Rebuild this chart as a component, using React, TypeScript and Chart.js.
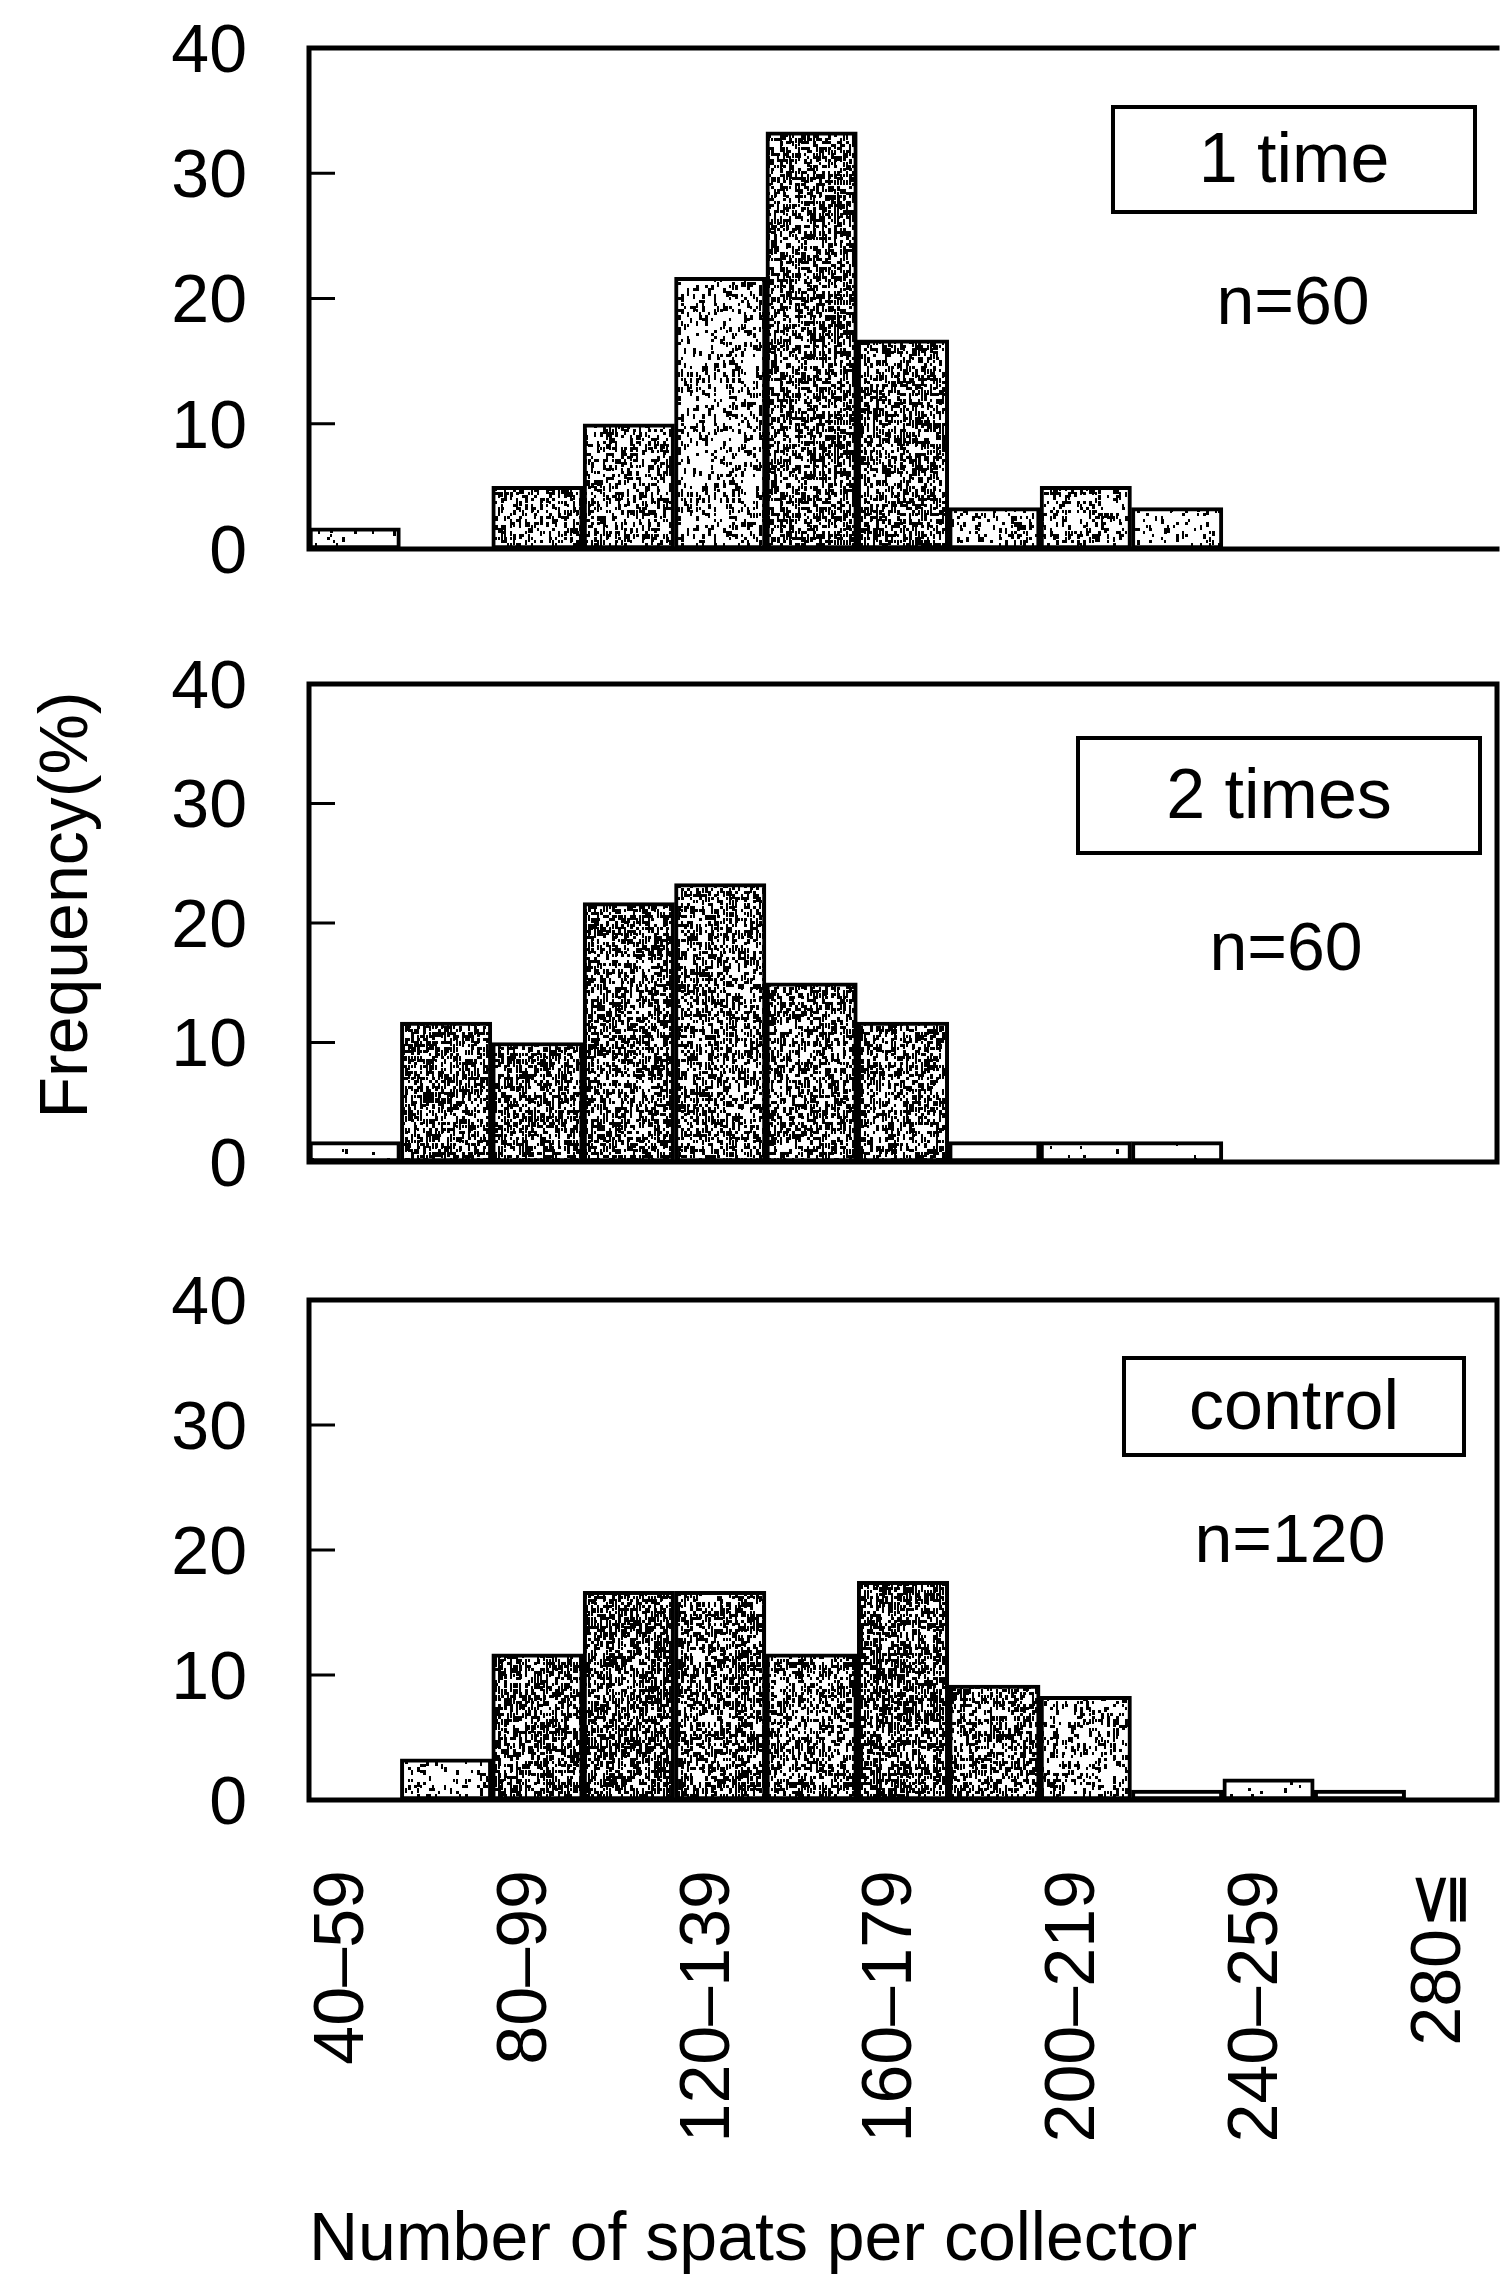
import React, { useEffect, useRef } from 'react';
import { Chart, registerables } from 'chart.js';

Chart.register(...registerables);

// ---------- data ----------
const categories = [
  '40–59', '60–79', '80–99', '100–119', '120–139', '140–159', '160–179',
  '180–199', '200–219', '220–239', '240–259', '260–279', '280≦',
];
const oneTime = [1.7, 0, 5.0, 10.0, 21.7, 33.3, 16.7, 3.3, 5.0, 3.3, 0, 0, 0];
const twoTimes = [1.7, 11.7, 10.0, 21.7, 23.3, 15.0, 11.7, 1.7, 1.7, 1.7, 0, 0, 0];
const control = [0, 3.3, 11.7, 16.7, 16.7, 11.7, 17.5, 9.2, 8.3, 0.8, 1.7, 0.8, 0];
const yTickValues = [0, 10, 20, 30, 40];
const panelNames = ['1 time', '2 times', 'control'];
const sampleSizes = ['n=60', 'n=60', 'n=120'];
const yTitle = 'Frequency(%)';
const xTitle = 'Number of spats per collector';

// ---------- styles (stipple darkness per bar) ----------
const shade1 = [0.06, 0, 0.42, 0.38, 0.28, 0.55, 0.5, 0.22, 0.32, 0.15, 0, 0, 0];
const shade2 = [0.03, 0.55, 0.55, 0.55, 0.5, 0.5, 0.48, 0, 0.02, 0.02, 0, 0, 0];
const shade3 = [0, 0.18, 0.6, 0.62, 0.52, 0.48, 0.62, 0.5, 0.32, 0, 0.06, 0, 0];

const FONT = "'Liberation Sans', Arial, Helvetica, sans-serif";

function hash(x: number, y: number, seed: number) {
  let h = (x * 374761393 + y * 668265263 + seed * 982451653) | 0;
  h = Math.imul(h ^ (h >>> 13), 1274126177);
  h ^= h >>> 16;
  return (h >>> 0) / 4294967296;
}

function stipple(density: number, seed: number) {
  const size = 120;
  const cell = 3;
  const c = document.createElement('canvas');
  c.width = size;
  c.height = size;
  const g = c.getContext('2d')!;
  g.fillStyle = '#ffffff';
  g.fillRect(0, 0, size, size);
  if (density > 0) {
    g.fillStyle = '#000000';
    for (let y = 0; y < size; y += cell) {
      for (let x = 0; x < size; x += cell) {
        const h = hash(x, y, seed);
        if (h < density) {
          const w = hash(y, x, seed + 7) < 0.5 ? 2 : 3;
          g.fillRect(x, y, w, cell + (h < density * 0.4 ? 2 : 0));
        }
      }
    }
  }
  return g.createPattern(c, 'repeat') as CanvasPattern;
}

const panelAxes = ['y1', 'y2', 'y3'];
// annotation box geometry per panel (absolute x, offsets from panel top)
const boxLayout = [
  { left: 1113, right: 1475, top: 59, bottom: 164, nx: 1293, ny: 257 },
  { left: 1078, right: 1480, top: 54, bottom: 169, nx: 1286, ny: 267 },
  { left: 1124, right: 1464, top: 58, bottom: 155, nx: 1290, ny: 243 },
];

const framePlugin = {
  id: 'panelFrames',
  afterDatasetsDraw(chart: any) {
    const { ctx, chartArea } = chart;
    panelAxes.forEach((id, i) => {
      const s = chart.scales[id];
      ctx.save();
      ctx.strokeStyle = '#000';
      ctx.lineCap = 'square';
      ctx.lineWidth = 5;
      ctx.beginPath();
      ctx.moveTo(chartArea.left, s.top);
      ctx.lineTo(chartArea.left, s.bottom);
      ctx.moveTo(chartArea.left, s.top);
      ctx.lineTo(chartArea.right, s.top);
      ctx.moveTo(chartArea.left, s.bottom);
      ctx.lineTo(chartArea.right, s.bottom);
      if (i > 0) {
        ctx.moveTo(chartArea.right, s.top);
        ctx.lineTo(chartArea.right, s.bottom);
      }
      ctx.stroke();
      // inward tick marks
      ctx.lineWidth = 3;
      ctx.lineCap = 'butt';
      ctx.beginPath();
      s.ticks.forEach((t: any) => {
        if (t.value <= s.min || t.value >= s.max) return;
        const y = s.getPixelForValue(t.value);
        ctx.moveTo(chartArea.left, y);
        ctx.lineTo(chartArea.left + 26, y);
      });
      ctx.stroke();
      // label box
      const b = boxLayout[i];
      ctx.lineWidth = 4;
      ctx.fillStyle = '#fff';
      ctx.fillRect(b.left, s.top + b.top, b.right - b.left, b.bottom - b.top);
      ctx.strokeRect(b.left, s.top + b.top, b.right - b.left, b.bottom - b.top);
      ctx.fillStyle = '#000';
      ctx.textAlign = 'center';
      ctx.textBaseline = 'middle';
      ctx.font = `70px ${FONT}`;
      ctx.fillText(panelNames[i], (b.left + b.right) / 2, s.top + (b.top + b.bottom) / 2 + 3);
      ctx.font = `68px ${FONT}`;
      ctx.fillText(sampleSizes[i], b.nx, s.top + b.ny);
      ctx.restore();
    });
    // y-axis title
    ctx.save();
    ctx.translate(87, 905);
    ctx.rotate(-Math.PI / 2);
    ctx.fillStyle = '#000';
    ctx.textAlign = 'center';
    ctx.textBaseline = 'alphabetic';
    ctx.font = `68px ${FONT}`;
    ctx.fillText(yTitle, 0, 0);
    ctx.restore();
  },
};

function panelScale(weight: number) {
  return {
    type: 'linear',
    position: 'left',
    stack: 'panels',
    stackWeight: weight,
    min: yTickValues[0],
    max: yTickValues[yTickValues.length - 1],
    grid: { display: false, drawTicks: false },
    border: { display: false },
    ticks: {
      autoSkip: false,
      stepSize: yTickValues[1] - yTickValues[0],
      padding: 62,
      labelOffset: 5,
      color: '#000',
      font: { size: 68, family: FONT },
    },
    afterFit: (s: any) => {
      s.width = 309;
      s.paddingTop = 0;
      s.paddingBottom = 0;
    },
  };
}

function gapScale(weight: number) {
  return {
    type: 'linear',
    position: 'left',
    stack: 'panels',
    stackWeight: weight,
    grid: { display: false, drawTicks: false },
    border: { display: false },
    ticks: { display: false },
    afterFit: (s: any) => {
      s.width = 0;
      s.paddingTop = 0;
      s.paddingBottom = 0;
    },
  };
}

export default function App() {
  const ref = useRef<HTMLCanvasElement>(null);

  useEffect(() => {
    const canvas = ref.current!;
    const mk = (values: number[], shades: number[], axis: string, seed: number) => ({
      data: values,
      yAxisID: axis,
      xAxisID: 'x',
      grouped: false,
      barPercentage: 1,
      categoryPercentage: 1,
      borderColor: '#000',
      borderWidth: 4,
      borderSkipped: false,
      backgroundColor: shades.map((d, k) => stipple(d, seed * 31 + k)),
    });

    const chart = new Chart(canvas, {
      type: 'bar',
      data: {
        labels: categories,
        datasets: [
          mk(oneTime, shade1, 'y1', 1),
          mk(twoTimes, shade2, 'y2', 2),
          mk(control, shade3, 'y3', 3),
        ] as any,
      },
      options: {
        responsive: false,
        animation: false,
        devicePixelRatio: 1,
        layout: { padding: { top: 48, right: 3, left: 0, bottom: 0 } },
        plugins: { legend: { display: false }, tooltip: { enabled: false } },
        scales: {
          x: {
            type: 'category',
            position: 'bottom',
            offset: true,
            grid: { display: false, drawTicks: false },
            border: { display: false },
            ticks: {
              autoSkip: false,
              maxRotation: 90,
              minRotation: 90,
              padding: 70,
              labelOffset: -11,
              color: '#000',
              font: { size: 70, family: FONT },
              callback: (_v: any, i: number) => (i % 2 === 0 ? categories[i] : ''),
            },
            title: {
              display: true,
              text: xTitle,
              align: 'start',
              color: '#000',
              font: { size: 68, family: FONT },
              padding: { top: 0, bottom: 0 },
            },
            afterFit: (s: any) => {
              s.height = 482;
              s.paddingLeft = 0;
              s.paddingRight = 0;
            },
          },
          y3: panelScale(500),
          g2: gapScale(138),
          y2: panelScale(478),
          g1: gapScale(135),
          y1: panelScale(501),
        } as any,
      },
      plugins: [framePlugin],
    });
    return () => chart.destroy();
  }, []);

  return (
    <div style={{ position: 'absolute', left: 0, top: 0, width: 1500, height: 2282, background: '#fff' }}>
      <canvas ref={ref} width={1500} height={2282} style={{ display: 'block', width: 1500, height: 2282 }} />
    </div>
  );
}
